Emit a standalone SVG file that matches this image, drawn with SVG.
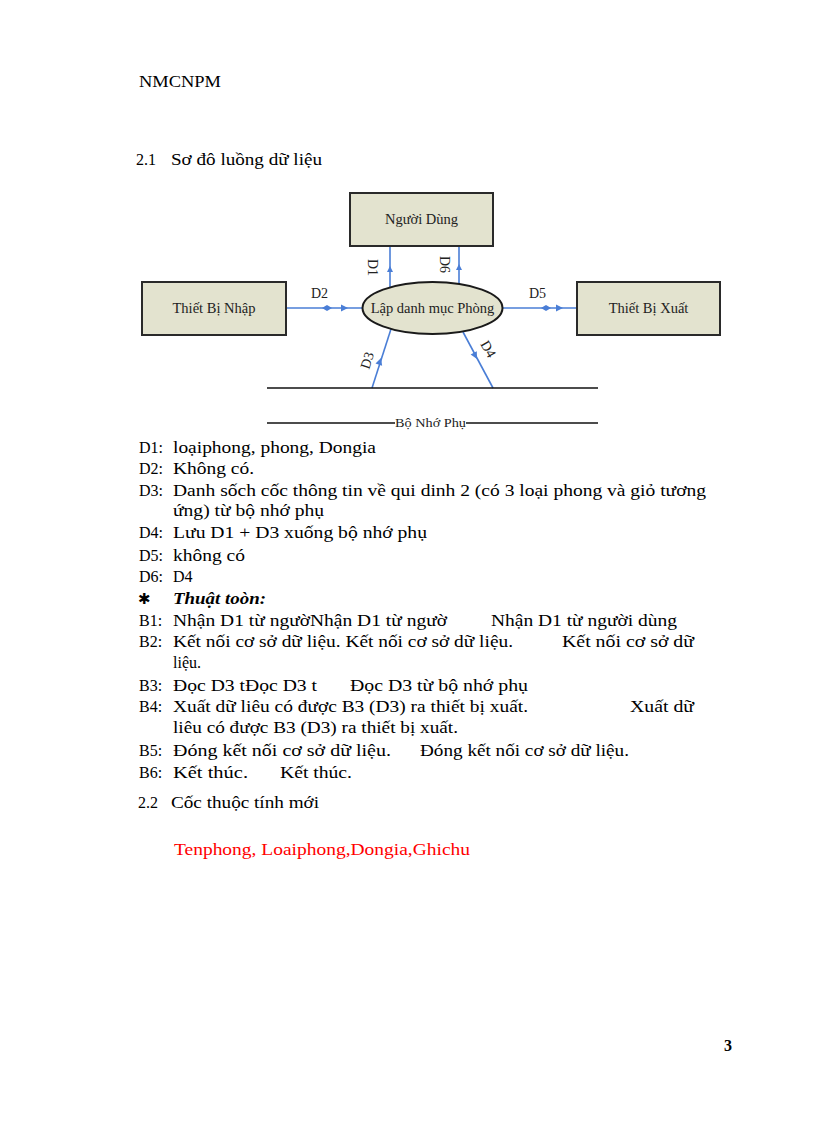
<svg xmlns="http://www.w3.org/2000/svg" width="816" height="1123" viewBox="0 0 816 1123">
<style>
.t{font-family:"Liberation Serif","Times New Roman",serif;font-size:16px;fill:#000}
.n{font-family:"Liberation Serif","Times New Roman",serif;font-size:14.5px;fill:#222;text-anchor:middle}
.lb{font-family:"Liberation Serif","Times New Roman",serif;font-size:14px;fill:#222}
.box{fill:#e3e3cf;stroke:#2a2a2a;stroke-width:2}
.fl{stroke:#4a7ed6;stroke-width:1.6;fill:none}
.st{stroke:#111;stroke-width:1.6}
.ah{fill:#4a7ed6}
</style>
<rect width="816" height="1123" fill="#fff"/>

<text class="t" x="139" y="87" textLength="82" lengthAdjust="spacingAndGlyphs">NMCNPM</text>
<text class="t" x="136" y="165">2.1</text>
<text class="t" x="171" y="165" textLength="151" lengthAdjust="spacingAndGlyphs">Sơ đô luồng dữ liệu</text>

<g id="connectors">
<line class="fl" x1="390" y1="246" x2="390" y2="287"/>
<path class="ah" d="M390,266 l-3,6 l6,0 Z"/>
<line class="fl" x1="459" y1="246" x2="459" y2="284"/>
<path class="ah" d="M459,264 l-3,6 l6,0 Z"/>
<line class="fl" x1="286" y1="308" x2="362" y2="308"/>
<path class="ah" d="M322,308 l5,-3 l5,3 l-5,3 Z"/>
<path class="ah" d="M348,308 l-7,-3.5 l0,7 Z"/>
<line class="fl" x1="503" y1="308" x2="576" y2="308"/>
<path class="ah" d="M541,308 l5,-3 l5,3 l-5,3 Z"/>
<path class="ah" d="M563,308 l-7,-3.5 l0,7 Z"/>
<line class="fl" x1="372" y1="388" x2="391" y2="329"/>
<path class="ah" d="M0,0 l-7,-3.5 l0,7 Z" transform="translate(381,358) rotate(-72)"/>
<line class="fl" x1="493" y1="388" x2="463" y2="332"/>
<path class="ah" d="M0,0 l-7,-3.5 l0,7 Z" transform="translate(477,359) rotate(62)"/>
<text class="lb" transform="translate(368,259) rotate(90)">D1</text>
<text class="lb" transform="translate(440,256) rotate(90)">D6</text>
<text class="lb" x="311" y="298">D2</text>
<text class="lb" x="529" y="298">D5</text>
<text class="lb" transform="translate(369,370) rotate(-72)">D3</text>
<text class="lb" transform="translate(480,344) rotate(60)">D4</text>
</g>

<g id="nguoi-dung">
<rect class="box" x="350" y="193" width="143" height="53"/>
<text class="n" x="421.5" y="224">Người Dùng</text>
</g>
<g id="thiet-bi-nhap">
<rect class="box" x="142" y="282" width="144" height="53"/>
<text class="n" x="214" y="313">Thiết Bị Nhập</text>
</g>
<g id="thiet-bi-xuat">
<rect class="box" x="577" y="282" width="143" height="53"/>
<text class="n" x="648.5" y="313">Thiết Bị Xuất</text>
</g>
<g id="lap-danh-muc">
<ellipse cx="432.5" cy="308" rx="70" ry="26" fill="#e3e3cf" stroke="#1a1a1a" stroke-width="2"/>
<text class="n" x="432.5" y="313">Lập danh mục Phòng</text>
</g>
<g id="bo-nho-phu">
<line class="st" x1="267" y1="388" x2="598" y2="388"/>
<line class="st" x1="267" y1="423" x2="395" y2="423"/>
<line class="st" x1="466" y1="423" x2="598" y2="423"/>
<text class="n" x="430.5" y="427" style="font-size:13px" textLength="71" lengthAdjust="spacingAndGlyphs">Bộ Nhớ Phụ</text>
</g>

<text class="t" x="139" y="453">D1:</text>
<text class="t" x="173" y="453" textLength="203" lengthAdjust="spacingAndGlyphs">loạiphong, phong, Dongia</text>
<text class="t" x="139" y="474">D2:</text>
<text class="t" x="173" y="474" textLength="81" lengthAdjust="spacingAndGlyphs">Không có.</text>
<text class="t" x="139" y="496">D3:</text>
<text class="t" x="173" y="496" textLength="533" lengthAdjust="spacingAndGlyphs">Danh sốch cốc thông tin về qui dinh 2 (có 3 loại phong và giỏ tương</text>
<text class="t" x="173" y="516" textLength="151" lengthAdjust="spacingAndGlyphs">ứng) từ bộ nhớ phụ</text>
<text class="t" x="139" y="538">D4:</text>
<text class="t" x="173" y="538" textLength="254" lengthAdjust="spacingAndGlyphs">Lưu D1 + D3  xuống bộ nhớ phụ</text>
<text class="t" x="139" y="561">D5:</text>
<text class="t" x="173" y="561" textLength="72" lengthAdjust="spacingAndGlyphs">không có</text>
<text class="t" x="139" y="582">D6:</text>
<text class="t" x="173" y="582">D4</text>
<text x="138" y="604" style="font-family:'DejaVu Sans',sans-serif;font-size:15px;font-weight:bold">✱</text>
<text class="t" x="173" y="604" textLength="93" lengthAdjust="spacingAndGlyphs" style="font-weight:bold;font-style:italic">Thuật toòn:</text>
<text class="t" x="139" y="626">B1:</text>
<text class="t" x="173" y="626" textLength="274" lengthAdjust="spacingAndGlyphs">Nhận D1  từ ngườNhận D1  từ ngườ</text>
<text class="t" x="491" y="626" textLength="186" lengthAdjust="spacingAndGlyphs">Nhận D1  từ người dùng</text>
<text class="t" x="139" y="647">B2:</text>
<text class="t" x="173" y="647" textLength="340" lengthAdjust="spacingAndGlyphs">Kết nối cơ sở dữ liệu. Kết nối cơ sở dữ liệu.</text>
<text class="t" x="562" y="647" textLength="132" lengthAdjust="spacingAndGlyphs">Kết nối cơ sở dữ</text>
<text class="t" x="173" y="668">liệu.</text>
<text class="t" x="139" y="691">B3:</text>
<text class="t" x="173" y="691" textLength="144" lengthAdjust="spacingAndGlyphs">Đọc D3  tĐọc D3  t</text>
<text class="t" x="350" y="691" textLength="178" lengthAdjust="spacingAndGlyphs">Đọc D3 từ bộ nhớ phụ</text>
<text class="t" x="139" y="712">B4:</text>
<text class="t" x="173" y="712" textLength="355" lengthAdjust="spacingAndGlyphs">Xuất dữ liêu có được B3 (D3)  ra thiết bị xuất.</text>
<text class="t" x="630" y="712" textLength="64" lengthAdjust="spacingAndGlyphs">Xuất dữ</text>
<text class="t" x="173" y="733" textLength="285" lengthAdjust="spacingAndGlyphs">liêu có được B3 (D3)  ra thiết bị xuất.</text>
<text class="t" x="139" y="756">B5:</text>
<text class="t" x="173" y="756" textLength="218" lengthAdjust="spacingAndGlyphs">Đóng kết nối cơ sở dữ liệu.</text>
<text class="t" x="420" y="756" textLength="209" lengthAdjust="spacingAndGlyphs">Đóng kết nối cơ sở dữ liệu.</text>
<text class="t" x="139" y="778">B6:</text>
<text class="t" x="173" y="778" textLength="75" lengthAdjust="spacingAndGlyphs">Kết thúc.</text>
<text class="t" x="280" y="778" textLength="72" lengthAdjust="spacingAndGlyphs">Kết thúc.</text>

<text class="t" x="138" y="808">2.2</text>
<text class="t" x="171" y="808" textLength="148" lengthAdjust="spacingAndGlyphs">Cốc thuộc tính mới</text>
<text class="t" x="174" y="855" textLength="296" lengthAdjust="spacingAndGlyphs" style="fill:#f00">Tenphong, Loaiphong,Dongia,Ghichu</text>
<text class="t" x="724" y="1051" style="font-weight:bold">3</text>
</svg>
